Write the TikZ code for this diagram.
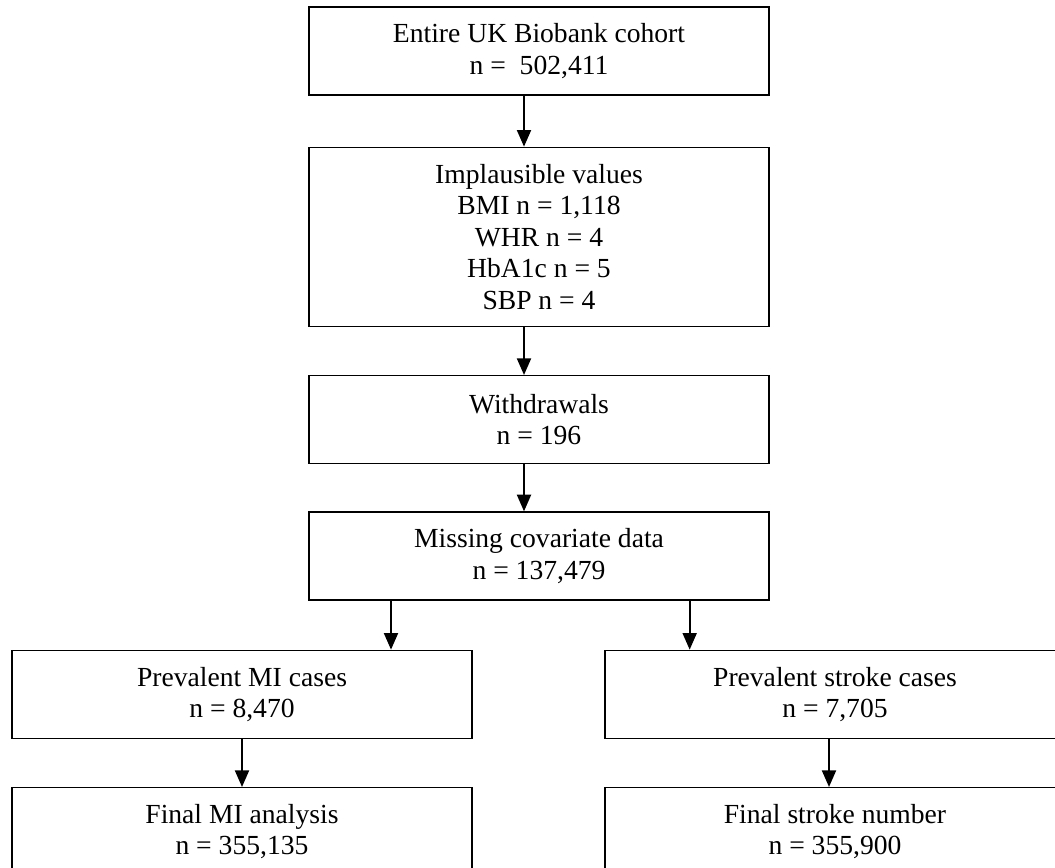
\documentclass[tikz,border=0pt]{standalone}
\usepackage{fontspec}
\setmainfont{Liberation Serif}
\usetikzlibrary{arrows.meta,positioning}

\begin{document}
\begin{tikzpicture}[
  box/.style={draw=black,line width=1pt,minimum width=345pt,minimum height=66pt,align=center,font=\fontsize{20.7pt}{23.6pt}\selectfont},
  arr/.style={-{Triangle[length=12.5pt,width=10.5pt]},line width=1.5pt},
  node distance=36pt,
]
\useasboundingbox (0,0) rectangle (791.25pt,-650.25pt);
\clip (0,0) rectangle (791.25pt,-650.25pt);
\node[box] (cohort) at (404.25pt,-38.25pt) {Entire UK Biobank cohort\\n = ~502,411};
\node[box,minimum height=134.25pt,below=38.25pt of cohort] (implaus) {Implausible values\\BMI n = 1,118\\WHR n = 4\\HbA1c n = 5\\SBP n = 4};
\node[box,below=of implaus] (withdraw) {Withdrawals\\n = 196};
\node[box,below=35.25pt of withdraw] (missing) {Missing covariate data\\n = 137,479};
\node[box,below=36.75pt of missing,xshift=-222.75pt] (prevmi) {Prevalent MI cases\\n = 8,470};
\node[box,below=36.75pt of missing,xshift=222pt] (prevstroke) {Prevalent stroke cases\\n = 7,705};
\node[box,below=of prevmi] (finalmi) {Final MI analysis\\n = 355,135};
\node[box,below=of prevstroke] (finalstroke) {Final stroke number\\n = 355,900};
\draw[arr] ([xshift=-11.25pt]cohort.south) -- ([xshift=-11.25pt]implaus.north);
\draw[arr] ([xshift=-11.25pt]implaus.south) -- ([xshift=-11.25pt]withdraw.north);
\draw[arr] ([xshift=-11.25pt]withdraw.south) -- ([xshift=-11.25pt]missing.north);
\draw[arr] ([xshift=-111pt]missing.south) -- ([xshift=-111pt]missing.south |- prevmi.north);
\draw[arr] ([xshift=113pt]missing.south) -- ([xshift=113pt]missing.south |- prevstroke.north);
\draw[arr] (prevmi) -- (finalmi);
\draw[arr] ([xshift=-4.5pt]prevstroke.south) -- ([xshift=-4.5pt]finalstroke.north);
\end{tikzpicture}
\end{document}
